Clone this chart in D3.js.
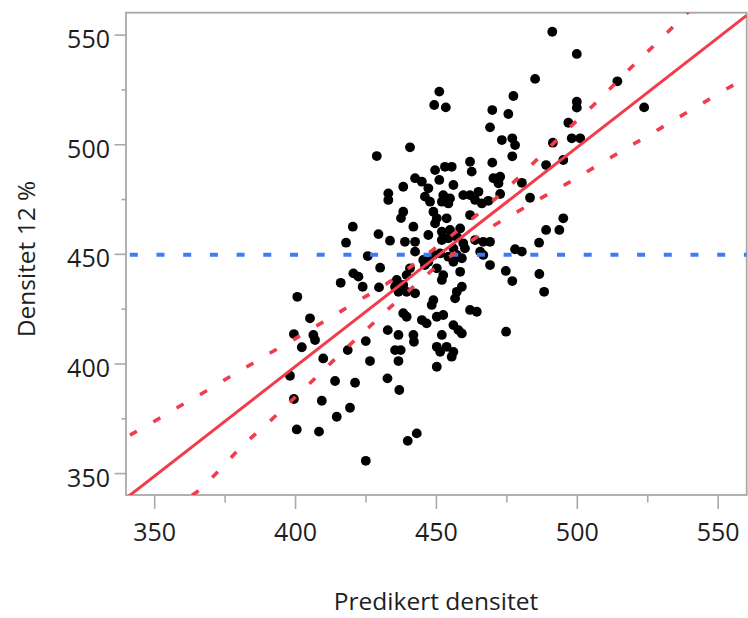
<!DOCTYPE html>
<html><head><meta charset="utf-8">
<script src="https://cdn.jsdelivr.net/npm/d3@7"></script>
<style>body{margin:0;background:#fff}svg{display:block}</style>
</head><body>
<svg id="chart" width="748" height="618"></svg>
<script>
// ---- data ----
const predicted = [440.8,429.0,442.6,445.0,438.4,433.1,433.1,446.1,447.9,438.4,437.6,442.0,420.5,429.6,418.1,433.7,439.0,442.6,442.6,425.8,
430.2,420.7,422.5,416.2,424.0,429.8,440.8,439.6,436.1,438.4,435.5,439.6,436.7,442.6,400.8,405.3,399.6,402.4,406.5,407.1,
410.0,398.2,399.6,409.5,414.2,421.3,418.7,425.1,426.6,419.5,414.8,400.6,408.5,432.9,436.7,442.0,442.2,435.5,437.5,436.7,
432.8,437.0,443.2,440.0,425.1,438.4,439.6,445.0,446.7,451.2,449.4,453.5,462.1,453.2,455.6,449.7,462.7,451.2,456.2,447.3,
452.6,455.0,452.1,454.4,459.7,462.1,465.1,463.9,466.3,449.1,450.3,449.7,453.8,462.1,452.1,455.0,458.6,447.3,452.1,454.4,
463.9,466.8,459.7,460.3,449.1,451.5,445.5,447.3,456.2,457.4,454.4,465.7,466.8,446.1,450.3,452.6,452.1,456.2,459.2,458.6,
459.2,457.4,456.8,449.1,448.5,462.1,464.5,450.3,452.6,456.2,458.0,459.2,452.1,450.3,451.5,453.8,456.2,455.6,450.3,457.4,
470.0,475.7,469.2,477.5,485.2,491.3,500.0,514.4,500.0,500.0,523.9,497.0,473.4,477.1,478.1,498.2,501.2,491.5,477.1,495.2,
489.1,470.0,470.4,472.8,472.2,480.5,472.8,468.6,483.4,495.2,489.1,493.8,469.2,486.6,478.1,480.5,469.2,474.8,477.1,486.7,
488.4,474.9];
const density = [498.6,494.6,484.5,482.9,480.6,477.6,474.6,476.1,473.8,469.2,466.3,462.4,462.4,459.0,455.1,456.0,455.5,455.5,451.0,449.0,
443.7,441.1,439.6,436.8,435.0,434.7,443.4,440.3,438.1,435.8,435.0,432.7,432.7,432.0,430.4,420.6,413.4,407.4,413.0,410.7,
402.3,394.4,383.8,383.0,392.0,391.2,406.1,410.2,401.1,379.8,375.7,369.9,368.9,415.2,413.0,413.0,409.9,406.1,406.1,401.1,
393.2,387.9,368.1,364.7,355.6,422.9,421.3,419.8,418.3,524.0,517.9,516.8,492.0,489.7,489.7,488.2,487.5,483.7,481.4,479.9,
476.8,475.3,473.8,473.0,476.8,476.8,478.3,474.6,473.0,469.2,466.2,463.9,466.2,467.7,460.1,460.9,461.6,458.6,456.3,457.1,
456.3,455.5,454.8,452.5,449.5,450.2,447.2,446.4,452.5,449.5,448.7,451.0,449.5,444.9,443.4,440.3,438.1,446.4,448.0,441.8,
435.0,432.7,429.7,428.9,426.7,424.4,423.6,421.3,422.1,417.5,415.2,413.7,413.0,407.6,405.3,407.6,405.3,403.1,398.5,457.8,
515.6,513.8,507.7,522.0,529.8,551.3,541.2,528.7,519.4,516.7,516.8,509.8,501.9,502.7,499.6,502.7,502.7,500.7,494.5,492.8,
490.5,491.6,484.5,485.2,482.2,482.4,477.3,474.2,475.6,466.2,460.9,460.9,455.5,455.1,452.1,451.0,444.9,442.2,437.6,440.8,
432.7,414.5];

const xTickValues = [350, 400, 450, 500, 550];
const yTickValues = [350, 400, 450, 500, 550];
const minorTickValues = [375, 425, 475, 525];
const meanDensity = 449.6;
const fitSlope = 1.0;
const fitIntercept = -1.5;
const upperBandX = [341.4,349.9,358.6,366.9,375.7,383.4,391.7,399.4,407.7,415.7,423.7,432.8,447.9,461.4,476.3,483.2,489.6,496.4,503.5,510.6,517.1,523.9,530.7,538.4,541.0];
const upperBandY = [367.3,373.4,380.3,386.1,393.2,398.8,405.3,410.7,417.2,423.3,429.7,436.1,450.8,464.1,480.9,489.7,497.7,506.5,514.8,523.7,532.4,540.7,549.1,559.0,562.0];
const lowerBandX = [363.4,365.1,371.0,377.5,383.4,391.7,398.2,405.3,412.2,419.5,426.2,433.1,439.6,446.7,469.2,478.1,486.4,494.7,502.6,511.2,518.9,527.2,535.5,543.5,551.5,559.7];
const lowerBandY = [340.0,341.0,348.3,357.5,365.1,374.2,382.5,390.9,399.6,408.7,416.3,425.1,432.0,441.1,462.4,468.5,474.9,480.6,486.7,493.3,499.2,505.3,511.8,517.8,524.0,530.1];
const xTitle = "Predikert densitet";
const yTitle = "Densitet 12 %";

// ---- layout ----
const L = 126, R = 746.7, T = 12.7, B = 495;
const svg = d3.select("#chart");
const x = d3.scaleLinear().domain([340, 560.3]).range([L, R]);
const y = d3.scaleLinear().domain([340, 560]).range([B, T]);
const FONT = "'Open Sans','Noto Sans',sans-serif";
const AXIS = "#a9a9a9";
const RED = "#f03c4b";
const BLUE = "#3f7cf2";

svg.append("defs").append("clipPath").attr("id", "plot")
  .append("rect").attr("x", L).attr("y", T).attr("width", R - L).attr("height", B - T);

// ticks
const xAxis = svg.append("g").attr("transform", `translate(0,${B})`)
  .call(d3.axisBottom(x).tickValues(xTickValues).tickSize(14).tickPadding(14).tickFormat(d3.format("d")));
const xMinor = svg.append("g").attr("transform", `translate(0,${B})`)
  .call(d3.axisBottom(x).tickValues(minorTickValues).tickSize(7.5).tickFormat(""));
const yAxis = svg.append("g").attr("transform", `translate(${L},0)`)
  .call(d3.axisLeft(y).tickValues(yTickValues).tickSize(11.5).tickPadding(5).tickFormat(d3.format("d")));
const yMinor = svg.append("g").attr("transform", `translate(${L},0)`)
  .call(d3.axisLeft(y).tickValues(minorTickValues).tickSize(4.5).tickFormat(""));
[xAxis, xMinor, yAxis, yMinor].forEach(g => {
  g.select(".domain").remove();
  g.selectAll(".tick line").attr("stroke", AXIS).attr("stroke-width", 1.6);
  g.selectAll(".tick text").attr("fill", "#1e1e1e").style("font-family", FONT).style("font-size", "25px");
});
xAxis.selectAll(".tick text").attr("dy", null).attr("y", 46);
yAxis.selectAll(".tick text").attr("dy", null).attr("y", 13).attr("x", -16);

// frame
svg.append("rect").attr("x", L).attr("y", T).attr("width", R - L).attr("height", B - T)
  .attr("fill", "none").attr("stroke", AXIS).attr("stroke-width", 1.8);

const plot = svg.append("g").attr("clip-path", "url(#plot)");

// points
plot.selectAll("circle").data(predicted.map((p, i) => ({p, d: density[i]})))
  .enter().append("circle")
  .attr("cx", d => x(d.p)).attr("cy", d => y(d.d)).attr("r", 4.9).attr("fill", "#000");

// mean line
plot.append("line").attr("x1", x(340)).attr("x2", x(560.3))
  .attr("y1", y(meanDensity)).attr("y2", y(meanDensity))
  .attr("stroke", BLUE).attr("stroke-width", 4).attr("stroke-dasharray", "8,18.7").attr("stroke-dashoffset", 22.9);

// confidence curves
const band = d3.line().x(d => x(d[0])).y(d => y(d[1])).curve(d3.curveBasis);
plot.append("path").attr("d", band(upperBandX.map((v, i) => [v, upperBandY[i]])))
  .attr("fill", "none").attr("stroke", RED).attr("stroke-width", 3.6).attr("stroke-dasharray", "8,19");
plot.append("path").attr("d", band(lowerBandX.map((v, i) => [v, lowerBandY[i]])))
  .attr("fill", "none").attr("stroke", RED).attr("stroke-width", 3.6).attr("stroke-dasharray", "8,19");

// fit line
const fx = x.domain();
plot.append("line").attr("x1", x(fx[0])).attr("y1", y(fitSlope * fx[0] + fitIntercept))
  .attr("x2", x(fx[1])).attr("y2", y(fitSlope * fx[1] + fitIntercept))
  .attr("stroke", RED).attr("stroke-width", 3);

// titles
svg.append("text").attr("x", 436).attr("y", 610).attr("text-anchor", "middle")
  .attr("fill", "#1e1e1e").style("font-family", FONT).style("font-size", "24.5px").text(xTitle);
svg.append("text").attr("transform", "translate(35,259) rotate(-90)").attr("text-anchor", "middle")
  .attr("fill", "#1e1e1e").style("font-family", FONT).style("font-size", "24.5px").text(yTitle);
</script>
</body></html>
